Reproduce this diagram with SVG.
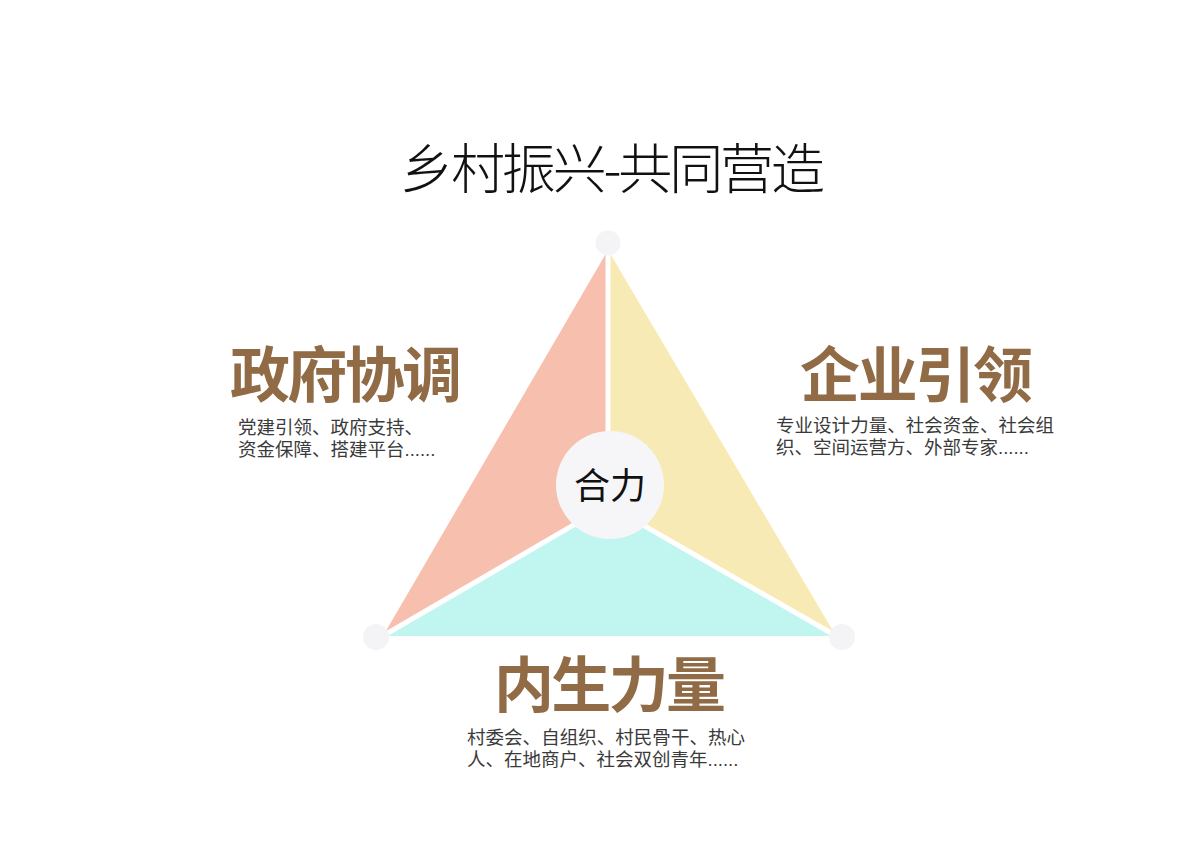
<svg xmlns="http://www.w3.org/2000/svg" width="1200" height="849" viewBox="0 0 1200 849">
<style>
.title{font-family:"Noto Sans CJK SC","Noto Sans",sans-serif;font-size:54px;font-weight:300;fill:#111}
.head{font-family:"Noto Sans CJK SC","Noto Sans",sans-serif;font-size:60px;font-weight:700;fill:#916b45}
.desc{font-family:"Liberation Sans","Noto Sans CJK SC",sans-serif;font-size:18.5px;fill:#3a3a3a}
.dot{fill:#f4f4f6}
.sep{stroke:#ffffff;stroke-width:5;fill:none;stroke-linecap:round}
</style>
<rect width="1200" height="849" fill="#ffffff"/>
<text class="title" x="400" y="189" textLength="425" lengthAdjust="spacing">乡村振兴-共同营造</text>
<g id="triangle">
<polygon id="seg-gov" points="608,250 383,636 608,505" fill="#f7bfae"/>
<polygon id="seg-ent" points="608,250 836,636 608,505" fill="#f8eab4"/>
<polygon id="seg-inner" points="383,636 836,636 608,505" fill="#c1f5ef"/>
</g>
<g id="connectors">
<line class="sep" x1="608" y1="250" x2="608" y2="505"/>
<line class="sep" x1="608" y1="505" x2="381" y2="637"/>
<line class="sep" x1="608" y1="505" x2="838" y2="637"/>
</g>
<g id="corners">
<circle class="dot" cx="608" cy="243" r="12.5"/>
<circle class="dot" cx="376" cy="637" r="13"/>
<circle class="dot" cx="842" cy="637" r="13"/>
</g>
<g id="center">
<circle cx="610" cy="485" r="54" fill="#f6f6f8"/>
<text x="610" y="499" text-anchor="middle" font-family="Noto Sans CJK SC, sans-serif" font-size="36" fill="#111">合力</text>
</g>
<g id="node-gov">
<text class="head" x="230" y="397" textLength="232" lengthAdjust="spacing">政府协调</text>
<text class="desc" x="238" y="434">党建引领、政府支持、</text>
<text class="desc" x="238" y="456">资金保障、搭建平台......</text>
</g>
<g id="node-ent">
<text class="head" x="800" y="397" textLength="233" lengthAdjust="spacing">企业引领</text>
<text class="desc" x="776" y="432" textLength="278" lengthAdjust="spacing">专业设计力量、社会资金、社会组</text>
<text class="desc" x="776" y="454">织、空间运营方、外部专家......</text>
</g>
<g id="node-inner">
<text class="head" x="494" y="707" textLength="232" lengthAdjust="spacing">内生力量</text>
<text class="desc" x="467" y="744" textLength="278" lengthAdjust="spacing">村委会、自组织、村民骨干、热心</text>
<text class="desc" x="467" y="766">人、在地商户、社会双创青年......</text>
</g>
</svg>
